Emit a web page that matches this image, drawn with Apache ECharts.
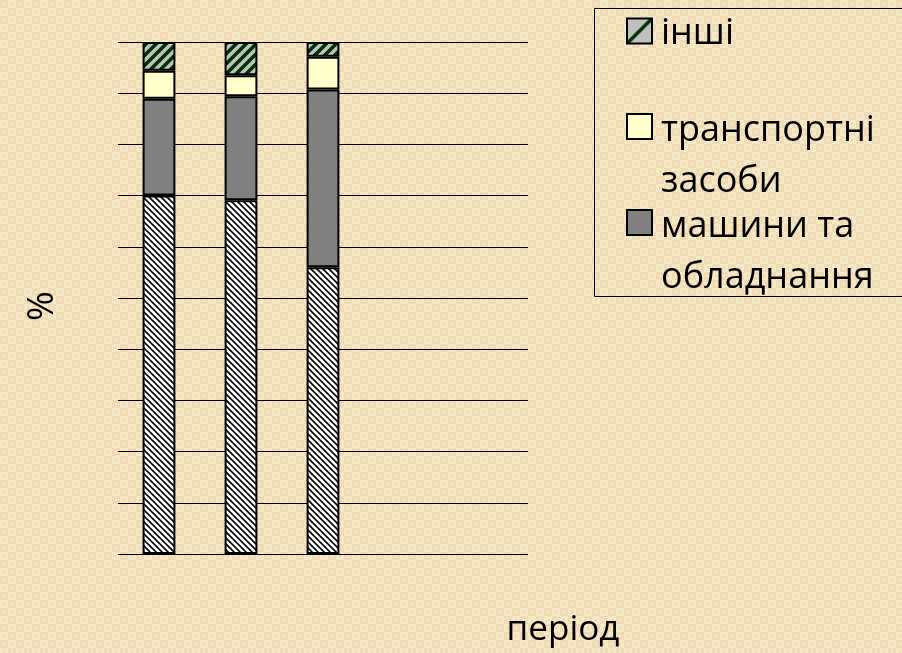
<!DOCTYPE html>
<html><head><meta charset="utf-8">
<script src="https://cdn.jsdelivr.net/npm/echarts@6/dist/echarts.min.js"></script>
<style>html,body{margin:0;padding:0;} #c{width:902px;height:653px;}</style>
</head><body><div id="c"></div>
<script>
// ---- data ----
const categories = ['I', 'II', 'III', 'IV', 'V'];
const buildings = [70.0, 69.1, 56.0];
const machinery = [18.9, 20.3, 34.7];
const transport = [5.5, 4.1, 6.4];
const other = [5.6, 6.5, 2.9];
const seriesNames = ['будівлі та споруди', 'машини та обладнання', 'транспортні засоби', 'інші'];
const axisNames = { y: '%', x: 'період' };

// ---- patterns ----
function tile(w, h, draw) {
  const c = document.createElement('canvas');
  c.width = w; c.height = h;
  draw(c.getContext('2d'));
  return c;
}
const bgTile = tile(16, 16, g => {
  g.fillStyle = '#f6e7c5'; g.fillRect(0, 0, 16, 16);
  g.fillStyle = '#efdcb6'; g.fillRect(0, 0, 8, 8); g.fillRect(8, 8, 8, 8);
  g.fillStyle = '#f8eacb'; g.fillRect(3, 3, 2, 2); g.fillRect(11, 11, 2, 2);
  g.fillStyle = '#ecd8b0'; g.fillRect(11, 3, 2, 2); g.fillRect(3, 11, 2, 2);
});
document.body.style.background = 'url(' + bgTile.toDataURL() + ')';

const hatch = tile(12, 12, g => {
  g.fillStyle = '#fff'; g.fillRect(0, 0, 12, 12);
  g.strokeStyle = '#000'; g.lineWidth = 1.6;
  for (let k = -2; k <= 2; k++) {
    g.beginPath(); g.moveTo(k * 6 - 1, -1); g.lineTo(k * 6 + 13, 13); g.stroke();
  }
});
const greenHatch = tile(20, 20, g => {
  g.fillStyle = '#c0c0c0'; g.fillRect(0, 0, 20, 20);
  g.strokeStyle = '#003300'; g.lineWidth = 3.5;
  for (let k = -2; k <= 2; k++) {
    g.beginPath(); g.moveTo(k * 10 - 1, 21); g.lineTo(k * 10 + 21, -1); g.stroke();
  }
});
const greenIcon = tile(25, 25, g => {
  g.fillStyle = '#c0c0c0'; g.fillRect(0, 0, 25, 25);
  g.strokeStyle = '#003300'; g.lineWidth = 3.5;
  g.beginPath(); g.moveTo(0, 25); g.lineTo(25, 0); g.stroke();
});

const FONT = '"Open Sans", "Noto Sans", sans-serif';
const legendLines = {
  'інші': ['інші'],
  'транспортні засоби': ['транспортні', 'засоби'],
  'машини та обладнання': ['машини та', 'обладнання']
};
const legendBase = {
  orient: 'vertical', left: 626, padding: 0, icon: 'rect',
  itemWidth: 25, itemHeight: 25, selectedMode: false,
  itemStyle: { borderColor: '#000', borderWidth: 2 },
  textStyle: {
    fontFamily: FONT, fontSize: 36, color: '#000', padding: [0, 0, 0, 4],
    rich: {
      e1: { fontSize: 4, lineHeight: 6 },
      e2: { fontSize: 4, lineHeight: 59 },
      t: { fontFamily: FONT, fontSize: 36, lineHeight: 51, color: '#000' }
    }
  },
  formatter: n => {
    const lines = legendLines[n] || [n];
    return (lines.length > 1 ? '{e2| }' : '{e1| }') + '\n' + lines.map(l => '{t|' + l + '}').join('\n');
  }
};
const barStyle = { borderColor: '#000', borderWidth: 2 };

const chart = echarts.init(document.getElementById('c'));
chart.setOption({
  animation: false,
  backgroundColor: 'transparent',
  grid: { left: 118, right: 374, top: 42, bottom: 99 },
  xAxis: {
    type: 'category', data: categories,
    axisLabel: { show: false }, axisTick: { show: false }, axisLine: { show: false }
  },
  yAxis: {
    type: 'value', min: 0, max: 100, interval: 10,
    axisLabel: { show: false }, axisTick: { show: false }, axisLine: { show: false },
    splitLine: { lineStyle: { color: '#000', width: 1 } },
    name: axisNames.y, nameLocation: 'middle', nameRotate: 90, nameGap: 57,
    nameTextStyle: { fontFamily: FONT, fontSize: 36, color: '#000', padding: [0, 16, 0, 0] }
  },
  legend: [
    Object.assign({}, legendBase, { top: 3.5,
      data: [{ name: seriesNames[3], itemStyle: { color: { image: greenIcon, repeat: 'repeat' } } }] }),
    Object.assign({}, legendBase, { top: 73.5, data: [seriesNames[2]] }),
    Object.assign({}, legendBase, { top: 169.5, data: [seriesNames[1]] })
  ],
  graphic: [
    { type: 'rect', silent: true, shape: { x: 594.5, y: 8.5, width: 340, height: 288 },
      style: { fill: 'none', stroke: '#000', lineWidth: 1 } },
    { type: 'text', silent: true, x: 563, y: 630,
      style: { text: axisNames.x, fontFamily: FONT, fontSize: 35, fill: '#000',
               align: 'center', verticalAlign: 'middle' } }
  ],
  series: [
    { name: seriesNames[0], type: 'bar', stack: 't', barWidth: '40%', data: buildings,
      itemStyle: Object.assign({ color: { image: hatch, repeat: 'repeat' } }, barStyle), emphasis: { disabled: true } },
    { name: seriesNames[1], type: 'bar', stack: 't', data: machinery,
      itemStyle: Object.assign({ color: '#808080' }, barStyle), emphasis: { disabled: true } },
    { name: seriesNames[2], type: 'bar', stack: 't', data: transport,
      itemStyle: Object.assign({ color: '#ffffcc' }, barStyle), emphasis: { disabled: true } },
    { name: seriesNames[3], type: 'bar', stack: 't', data: other,
      itemStyle: Object.assign({ color: { image: greenHatch, repeat: 'repeat' } }, barStyle), emphasis: { disabled: true } }
  ]
});
</script></body></html>
